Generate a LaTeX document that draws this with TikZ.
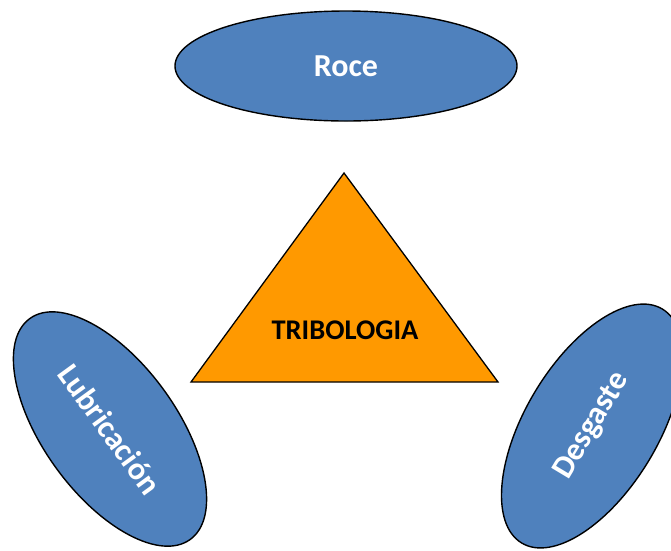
\documentclass[tikz,border=0pt]{standalone}
\usepackage{fontspec}
\setmainfont{Carlito}
\usetikzlibrary{shapes.geometric}
\definecolor{bluefill}{HTML}{4F81BD}
\definecolor{orangefill}{HTML}{FF9900}
\begin{document}
\begin{tikzpicture}[x=1pt,y=-1pt,
  blob/.style={ellipse, draw=black, line width=1.4pt, fill=bluefill, text=white,
    font=\bfseries\fontsize{32}{36}\selectfont, inner sep=0pt},
  trilabel/.style={font=\bfseries\fontsize{28.5}{34}\selectfont, text=black, inner sep=0pt}
]
\clip (0,0) rectangle (671,550);
\fill[white] (0,0) rectangle (671,550);
\node[blob, minimum width=342pt, minimum height=110pt] (roce) at (346,66) {Roce};
\node[blob, minimum width=273pt, minimum height=133pt, rotate=-54] (lub) at (110,429) {Lubricación};
\node[blob, minimum width=273pt, minimum height=133pt, rotate=59] (des) at (592,426) {Desgaste};
\coordinate (apex) at (344,173);
\coordinate (bl) at (191,382);
\coordinate (br) at (498,382);
\draw[fill=orangefill, line width=1.3pt, line join=miter] (apex) -- (bl) -- (br) -- cycle;
\node[trilabel] (tri) at (345,330) {TRIBOLOGIA};
\end{tikzpicture}
\end{document}
